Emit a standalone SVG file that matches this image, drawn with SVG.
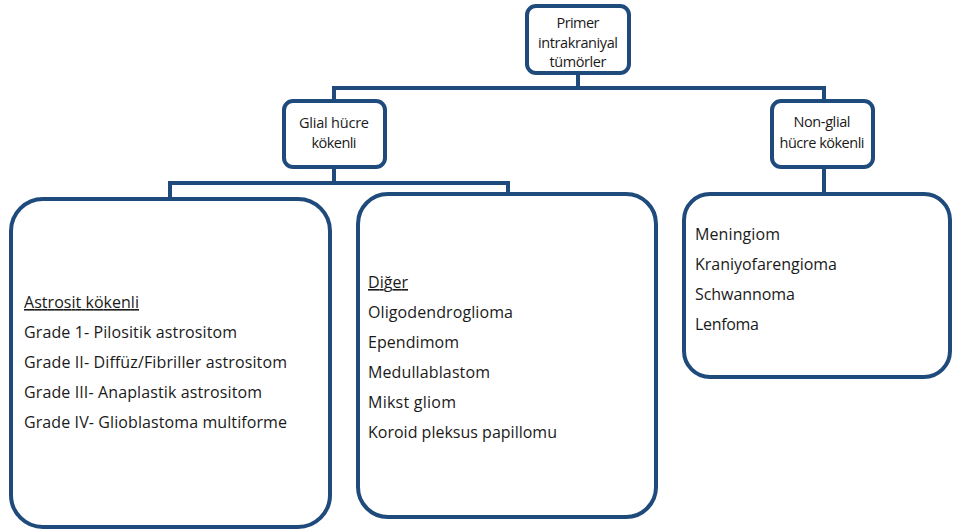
<svg xmlns="http://www.w3.org/2000/svg" width="953" height="530" viewBox="0 0 953 530">
<style>
.box{fill:#fff;stroke:#1f4a7c;stroke-width:4}
.con{fill:none;stroke:#1f4a7c;stroke-width:4;stroke-linejoin:miter}
text{font-family:"Open Sans","Liberation Sans",sans-serif;fill:#1a1a1a}
.s{font-size:14.5px;text-anchor:middle}
.l{font-size:16px}
.u{text-decoration:underline}
</style>
<rect width="953" height="530" fill="#fff"/>
<g id="connectors">
<polyline class="con" points="578,73 578,88"/>
<polyline class="con" points="334,101 334,88 824,88 824,101"/>
<polyline class="con" points="170,200 170,183 508,183 508,194"/>
<polyline class="con" points="334,167 334,183"/>
<polyline class="con" points="824,167 824,194"/>
</g>
<g id="root">
<rect class="box" x="527" y="6" width="102" height="67" rx="9"/>
<text class="s" x="578" y="28" textLength="43">Primer</text>
<text class="s" x="578" y="48" textLength="80">intrakraniyal</text>
<text class="s" x="578" y="67" textLength="57">tümörler</text>
</g>
<g id="glial">
<rect class="box" x="284" y="101" width="101" height="66" rx="9"/>
<text class="s" x="334" y="128" textLength="70">Glial hücre</text>
<text class="s" x="334" y="148" textLength="45">kökenli</text>
</g>
<g id="nonglial">
<rect class="box" x="772" y="101" width="101" height="66" rx="9"/>
<text class="s" x="822" y="127" textLength="57">Non-glial</text>
<text class="s" x="822" y="148" textLength="85">hücre kökenli</text>
</g>
<g id="astrosit">
<rect class="box" x="11" y="199" width="319" height="328" rx="32"/>
<text class="l u" x="24" y="308" textLength="115">Astrosit kökenli</text>
<text class="l" x="24" y="338" textLength="213">Grade 1- Pilositik astrositom</text>
<text class="l" x="24" y="368" textLength="263">Grade II- Diffüz/Fibriller astrositom</text>
<text class="l" x="24" y="398" textLength="238">Grade III- Anaplastik astrositom</text>
<text class="l" x="24" y="428" textLength="263">Grade IV- Glioblastoma multiforme</text>
</g>
<g id="diger">
<rect class="box" x="358" y="194" width="298" height="323" rx="30"/>
<text class="l u" x="368" y="288" textLength="40">Diğer</text>
<text class="l" x="368" y="318" textLength="145">Oligodendroglioma</text>
<text class="l" x="368" y="348" textLength="91">Ependimom</text>
<text class="l" x="368" y="378" textLength="122">Medullablastom</text>
<text class="l" x="368" y="408" textLength="88">Mikst gliom</text>
<text class="l" x="368" y="438" textLength="189">Koroid pleksus papillomu</text>
</g>
<g id="nonglial-list">
<rect class="box" x="684" y="194" width="266" height="183" rx="26"/>
<text class="l" x="695" y="240" textLength="85">Meningiom</text>
<text class="l" x="695" y="270" textLength="142">Kraniyofarengioma</text>
<text class="l" x="695" y="300" textLength="100">Schwannoma</text>
<text class="l" x="695" y="330" textLength="64">Lenfoma</text>
</g>
</svg>
